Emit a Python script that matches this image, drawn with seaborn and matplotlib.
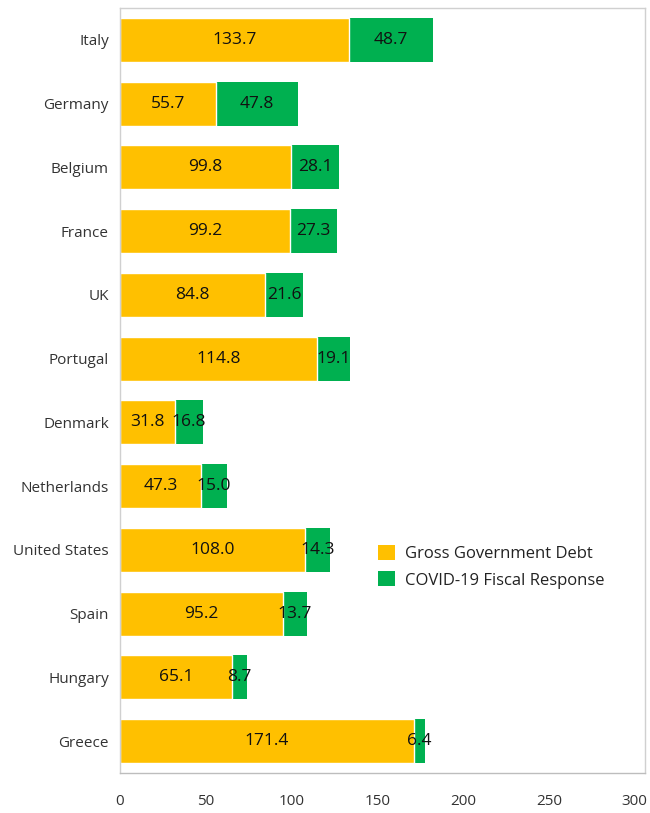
import matplotlib
matplotlib.use("Agg")
import matplotlib.pyplot as plt
import seaborn as sns
import pandas as pd
from matplotlib.patches import Patch

countries = ["Italy", "Germany", "Belgium", "France", "UK", "Portugal", "Denmark",
             "Netherlands", "United States", "Spain", "Hungary", "Greece"]
debt = [133.7, 55.7, 99.8, 99.2, 84.8, 114.8, 31.8, 47.3, 108.0, 95.2, 65.1, 171.4]
fiscal = [48.7, 47.8, 28.1, 27.3, 21.6, 19.1, 16.8, 15.0, 14.3, 13.7, 8.7, 6.4]
xticks = [0, 50, 100, 150, 200, 250, 300]

YELLOW = "#FFC000"
GREEN = "#00B050"

sns.set_theme(style="white")
plt.rcParams["font.family"] = ["Open Sans", "DejaVu Sans"]

df = pd.DataFrame({"country": countries, "debt": debt, "fiscal": fiscal})
df["total"] = df["debt"] + df["fiscal"]

fig = plt.figure(figsize=(6.5, 8.13), dpi=100)
ax = fig.add_axes([120 / 650, (813 - 773) / 813, (645 - 120) / 650, (773 - 8) / 813])

sns.barplot(data=df, y="country", x="total", color=GREEN, orient="h",
            width=0.69, ax=ax, saturation=1, edgecolor="none")
sns.barplot(data=df, y="country", x="debt", color=YELLOW, orient="h",
            width=0.69, ax=ax, saturation=1, edgecolor="white", linewidth=1.0)

for i, (d, f) in enumerate(zip(debt, fiscal)):
    ax.text(d / 2, i, f"{d:.1f}", ha="center", va="center", fontsize=12.5, color="#111111")
    ax.text(d + f / 2, i, f"{f:.1f}", ha="center", va="center", fontsize=12.5, color="#111111")

ax.set_xlim(0, 306)
ax.set_ylim(len(countries) - 0.5, -0.5)
ax.set_xticks(xticks)
ax.set_xticklabels([str(t) for t in xticks], fontsize=11, color="#333333")
ax.tick_params(axis="x", length=0, pad=15)
ax.tick_params(axis="y", which="major", length=0, pad=8, labelsize=11, labelcolor="#333333")
ax.set_yticks([i + 0.5 for i in range(-1, len(countries))], minor=True)
ax.tick_params(axis="y", which="minor", length=7, width=1, color="#c8c8c8", direction="out")
ax.set_xlabel("")
ax.set_ylabel("")
for s in ax.spines.values():
    s.set_visible(True)
    s.set_color("#d0d0d0")
    s.set_linewidth(1)
ax.spines["bottom"].set_color("#bdbdbd")

handles = [Patch(facecolor=YELLOW, edgecolor="none", label="Gross Government Debt"),
           Patch(facecolor=GREEN, edgecolor="none", label="COVID-19 Fiscal Response")]
fig.legend(handles=handles, loc="upper left", bbox_to_anchor=(363 / 650, 1 - 530 / 813),
           frameon=False, fontsize=12, handlelength=1.0, handleheight=1.0,
           handletextpad=0.6, labelspacing=0.55, labelcolor="#222222")

fig.savefig("out.png", dpi=100)
